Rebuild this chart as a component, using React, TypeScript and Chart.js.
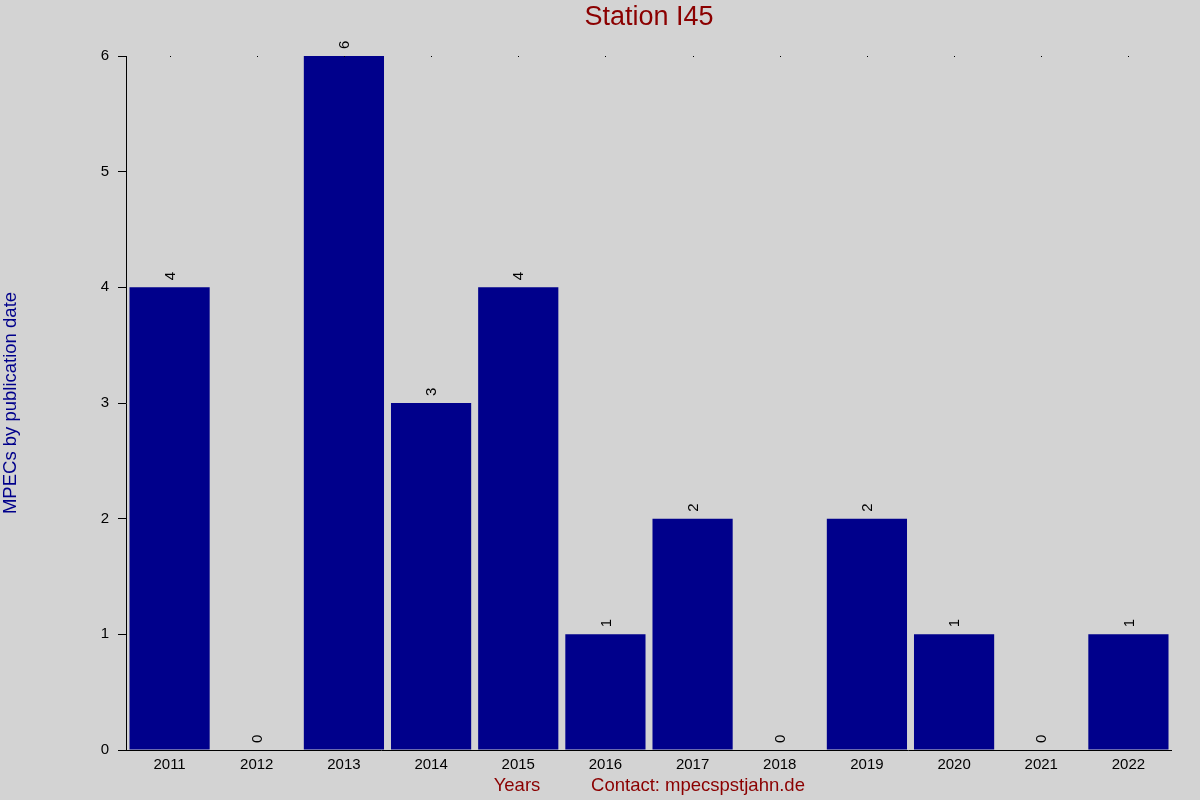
import React, { useEffect, useRef } from "react";
import { Chart, registerables } from "chart.js";

Chart.register(...registerables);

const years = ["2011", "2012", "2013", "2014", "2015", "2016", "2017", "2018", "2019", "2020", "2021", "2022"];
const mpecs = [4, 0, 6, 3, 4, 1, 2, 0, 2, 1, 0, 1];
const yTicks = [0, 1, 2, 3, 4, 5, 6];

const FONT = "'Liberation Sans', Arial, sans-serif";
const RED = "#8b0000";
const BLUE = "#00008b";

const decorations = {
    id: "decorations",
    afterDatasetsDraw(chart: Chart) {
        const { ctx, chartArea } = chart;
        const meta = chart.getDatasetMeta(0);
        const xScale = chart.scales.x;
        ctx.save();

        // value labels above bars, rotated
        ctx.fillStyle = "#000";
        ctx.font = `15px ${FONT}`;
        ctx.textAlign = "left";
        ctx.textBaseline = "middle";
        meta.data.forEach((bar: any, i: number) => {
            ctx.save();
            ctx.translate(bar.x, bar.y - 7);
            ctx.rotate(-Math.PI / 2);
            ctx.fillText(String(mpecs[i]), 0, 1);
            ctx.restore();
        });

        // small dots along the top at category centres
        years.forEach((_, i) => {
            const x = xScale.getPixelForValue(i);
            ctx.fillRect(Math.round(x), chartArea.top, 1, 1);
        });

        // x axis line extended under the y tick marks
        ctx.strokeStyle = "#000";
        ctx.lineWidth = 1;
        ctx.beginPath();
        ctx.moveTo(chartArea.left - 8, chartArea.bottom + 0.5);
        ctx.lineTo(chartArea.right, chartArea.bottom + 0.5);
        ctx.stroke();

        // title
        const cx = (chartArea.left + chartArea.right) / 2;
        ctx.fillStyle = RED;
        ctx.font = `27px ${FONT}`;
        ctx.textAlign = "center";
        ctx.textBaseline = "middle";
        ctx.fillText("Station I45", cx, 18);

        // bottom labels
        ctx.font = `18.5px ${FONT}`;
        ctx.fillText("Years", 517, 786);
        ctx.fillText("Contact: mpecspstjahn.de", 698, 786);

        // y axis title
        ctx.fillStyle = BLUE;
        ctx.save();
        ctx.translate(11, (chartArea.top + chartArea.bottom) / 2);
        ctx.rotate(-Math.PI / 2);
        ctx.fillText("MPECs by publication date", 0, 0);
        ctx.restore();

        ctx.restore();
    },
};

const App: React.FC = () => {
    const canvasRef = useRef<HTMLCanvasElement | null>(null);
    const chartRef = useRef<Chart | null>(null);

    useEffect(() => {
        document.body.style.margin = "0";
        if (chartRef.current) {
            chartRef.current.destroy();
        }
        if (canvasRef.current) {
            chartRef.current = new Chart(canvasRef.current, {
                type: "bar",
                data: {
                    labels: years,
                    datasets: [
                        {
                            data: mpecs,
                            backgroundColor: BLUE,
                            borderWidth: 0,
                            barPercentage: 0.92,
                            categoryPercentage: 1,
                        },
                    ],
                },
                options: {
                    responsive: false,
                    animation: false,
                    layout: { padding: { left: 0, right: 28, top: 56, bottom: 0 } },
                    plugins: {
                        legend: { display: false },
                        title: { display: false },
                        tooltip: { enabled: false },
                    },
                    scales: {
                        x: {
                            grid: { display: false, drawTicks: false },
                            border: { display: false },
                            ticks: {
                                color: "#000",
                                font: { family: FONT, size: 15 },
                                padding: 6,
                                maxRotation: 0,
                            },
                            afterFit: (scale: any) => {
                                scale.height = 50;
                            },
                        },
                        y: {
                            min: 0,
                            max: 6,
                            afterBuildTicks: (scale: any) => {
                                scale.ticks = yTicks.map((v) => ({ value: v }));
                            },
                            grid: {
                                drawOnChartArea: false,
                                drawTicks: true,
                                tickLength: 8,
                                color: "#000",
                            },
                            border: { display: true, color: "#000", width: 1 },
                            ticks: {
                                color: "#000",
                                font: { family: FONT, size: 15 },
                                padding: 9,
                            },
                            afterFit: (scale: any) => {
                                scale.width = 126;
                            },
                        },
                    },
                },
                plugins: [decorations],
            });
        }
        return () => {
            if (chartRef.current) {
                chartRef.current.destroy();
            }
        };
    }, []);

    return (
        <div style={{ width: 1200, height: 800, background: "#d3d3d3" }}>
            <canvas ref={canvasRef} width={1200} height={800} />
        </div>
    );
};

export default App;
